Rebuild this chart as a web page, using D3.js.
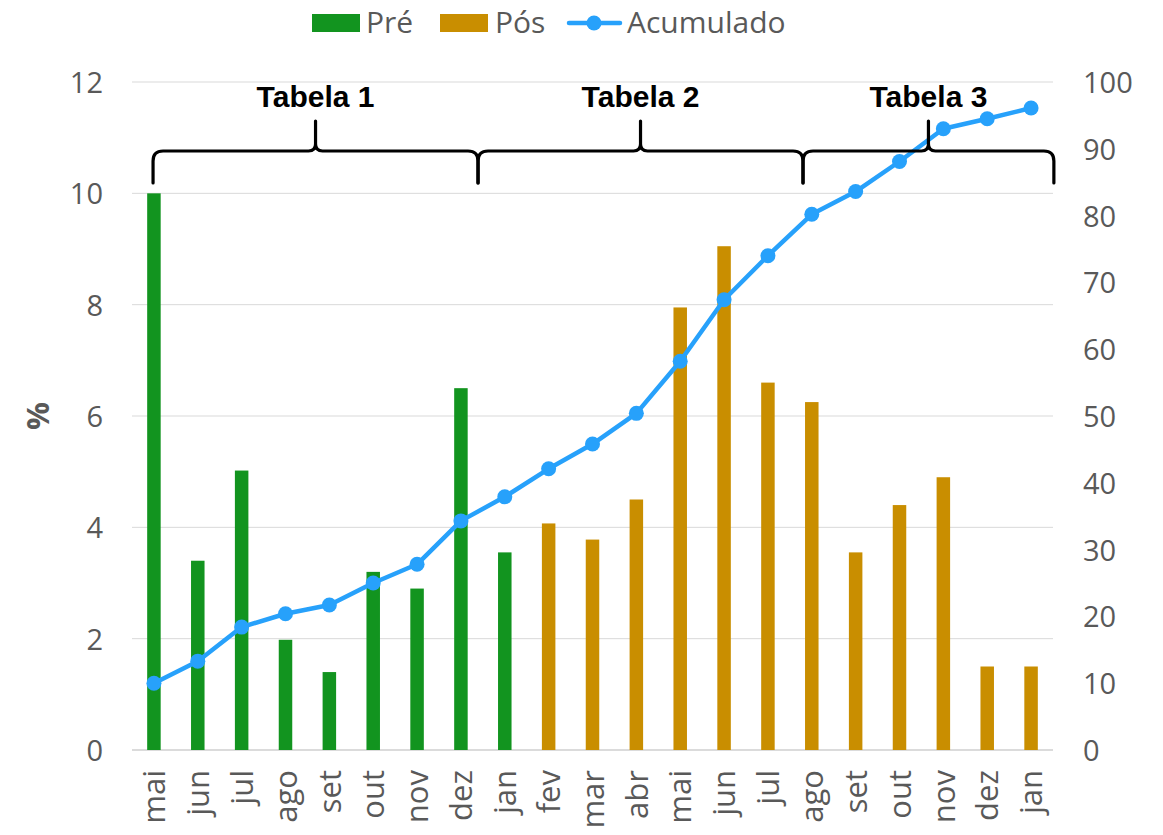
<!DOCTYPE html>
<html lang="pt">
<head>
<meta charset="UTF-8">
<title>Pré / Pós / Acumulado</title>
<script src="https://d3js.org/d3.v7.min.js"></script>
<style>
    body { margin: 0; background: #fff; }
    text { font-family: "Century Gothic", "Open Sans", sans-serif; fill: #595959; }
    .grid line { stroke: #d9d9d9; stroke-width: 1; }
    .tabela { font-family: "Liberation Sans", Arial, sans-serif; font-weight: bold; fill: #000; }
</style>
</head>
<body>
<div id="chart"></div>
<script>
    // months along the x axis
    const months = ["mai","jun","jul","ago","set","out","nov","dez","jan","fev","mar","abr",
                    "mai","jun","jul","ago","set","out","nov","dez","jan"];
    // "Pré" for the first 9, "Pós" for the rest
    const phase = ["pre","pre","pre","pre","pre","pre","pre","pre","pre",
                   "pos","pos","pos","pos","pos","pos","pos","pos","pos","pos","pos","pos"];
    const values = [10, 3.4, 5.02, 1.98, 1.4, 3.2, 2.9, 6.5, 3.55,
                    4.07, 3.78, 4.5, 7.95, 9.05, 6.6, 6.25, 3.55, 4.4, 4.9, 1.5, 1.5];
    const acumulado = [10, 13.3, 18.4, 20.4, 21.7, 25.0, 27.8, 34.3, 37.9,
                       42.1, 45.8, 50.4, 58.2, 67.4, 74.0, 80.2, 83.6, 88.1, 93.0, 94.5, 96.1];
    const leftTicks = [0, 2, 4, 6, 8, 10, 12];
    const rightTicks = [0, 10, 20, 30, 40, 50, 60, 70, 80, 90, 100];
    const tabelas = ["Tabela 1", "Tabela 2", "Tabela 3"];
    // brace limits, in category units from the left edge
    const braceEdges = [0.48, 7.89, 15.3, 21.02];

    const width = 1163, height = 835;
    const colors = { pre: "#12941f", pos: "#c98e00", line: "#27a1fb" };

    const svg = d3.select("#chart").append("svg")
        .attr("width", width)
        .attr("height", height);

    const x = d3.scaleBand().domain(d3.range(months.length)).range([132, 1053]);
    const xu = d3.scaleLinear().domain([0, months.length]).range([132, 1053]);
    const y = d3.scaleLinear().domain([0, 12]).range([750, 82]);
    const y2 = d3.scaleLinear().domain([0, 100]).range([750, 82]);

    // gridlines
    svg.append("g").attr("class", "grid")
        .selectAll("line").data(leftTicks).enter().append("line")
        .attr("x1", 132).attr("x2", 1053)
        .attr("y1", d => y(d)).attr("y2", d => y(d))
        .style("stroke", d => d === 0 ? "#cfcfcf" : null)
        .style("stroke-width", d => d === 0 ? 1.5 : null);

    // left axis
    const yAxis = svg.append("g")
        .attr("transform", "translate(103,0)")
        .call(d3.axisLeft(y).tickValues(leftTicks).tickSize(0).tickPadding(0));
    yAxis.select(".domain").remove();
    yAxis.selectAll("text").style("font-size", "29px").attr("dy", "0.36em");

    // right axis
    const y2Axis = svg.append("g")
        .attr("transform", "translate(1083,0)")
        .call(d3.axisRight(y2).tickValues(rightTicks).tickSize(0).tickPadding(0));
    y2Axis.select(".domain").remove();
    y2Axis.selectAll("text").style("font-size", "29px").attr("dy", "0.36em");

    // x axis labels (rotated)
    const xAxis = svg.append("g")
        .attr("transform", "translate(0,770)")
        .call(d3.axisBottom(x).tickFormat(i => months[i]).tickSize(0).tickPadding(0));
    xAxis.select(".domain").remove();
    xAxis.selectAll("text")
        .style("font-size", "31px")
        .attr("text-anchor", "end")
        .attr("transform", "rotate(-90)")
        .attr("x", 0).attr("y", 0)
        .attr("dy", "0.36em");

    // y title
    svg.append("text")
        .attr("transform", "translate(38,416) rotate(-90)")
        .attr("text-anchor", "middle")
        .attr("dy", "0.36em")
        .style("font-size", "31px")
        .style("font-weight", "bold")
        .text("%");

    // bars
    const barW = 13.5;
    svg.append("g").selectAll("rect").data(values).enter().append("rect")
        .attr("x", (d, i) => x(i) + x.bandwidth() / 2 - barW / 2)
        .attr("width", barW)
        .attr("y", d => y(d))
        .attr("height", d => y(0) - y(d))
        .attr("fill", (d, i) => colors[phase[i]]);

    // cumulative line
    const line = d3.line()
        .x((d, i) => x(i) + x.bandwidth() / 2)
        .y(d => y2(d));
    svg.append("path")
        .datum(acumulado)
        .attr("d", line)
        .attr("fill", "none")
        .attr("stroke", colors.line)
        .attr("stroke-width", 4.5)
        .attr("stroke-linejoin", "round");
    svg.append("g").selectAll("circle").data(acumulado).enter().append("circle")
        .attr("cx", (d, i) => x(i) + x.bandwidth() / 2)
        .attr("cy", d => y2(d))
        .attr("r", 7.5)
        .attr("fill", colors.line);

    // braces with table labels
    function bracePath(x0, x1) {
        const yEnd = 183, yH = 151, yTip = 121, r = 10, r2 = 7;
        const xm = (x0 + x1) / 2;
        return `M${x0},${yEnd} L${x0},${yH + r} Q${x0},${yH} ${x0 + r},${yH} ` +
               `L${xm - r2},${yH} Q${xm},${yH} ${xm},${yH - r2} L${xm},${yTip} ` +
               `M${xm},${yTip} L${xm},${yH - r2} Q${xm},${yH} ${xm + r2},${yH} ` +
               `L${x1 - r},${yH} Q${x1},${yH} ${x1},${yH + r} L${x1},${yEnd}`;
    }
    const braces = svg.append("g");
    tabelas.forEach((t, k) => {
        const x0 = xu(braceEdges[k]), x1 = xu(braceEdges[k + 1]);
        braces.append("path")
            .attr("d", bracePath(x0, x1))
            .attr("fill", "none")
            .attr("stroke", "#000")
            .attr("stroke-width", 3.2)
            .attr("stroke-linecap", "round");
        braces.append("text")
            .attr("class", "tabela")
            .attr("x", (x0 + x1) / 2)
            .attr("y", 107)
            .attr("text-anchor", "middle")
            .style("font-size", "30px")
            .text(t);
    });

    // legend
    const legend = svg.append("g");
    legend.append("rect").attr("x", 312).attr("y", 14).attr("width", 48).attr("height", 18).attr("fill", colors.pre);
    legend.append("text").attr("x", 366).attr("y", 33).style("font-size", "30px").text("Pré");
    legend.append("rect").attr("x", 440).attr("y", 14).attr("width", 48).attr("height", 18).attr("fill", colors.pos);
    legend.append("text").attr("x", 495).attr("y", 33).style("font-size", "30px").text("Pós");
    legend.append("line").attr("x1", 569).attr("x2", 620).attr("y1", 23).attr("y2", 23)
        .attr("stroke", colors.line).attr("stroke-width", 4.5).attr("stroke-linecap", "round");
    legend.append("circle").attr("cx", 594).attr("cy", 23).attr("r", 7.5).attr("fill", colors.line);
    legend.append("text").attr("x", 627).attr("y", 33).style("font-size", "30px").text("Acumulado");
</script>
</body>
</html>
